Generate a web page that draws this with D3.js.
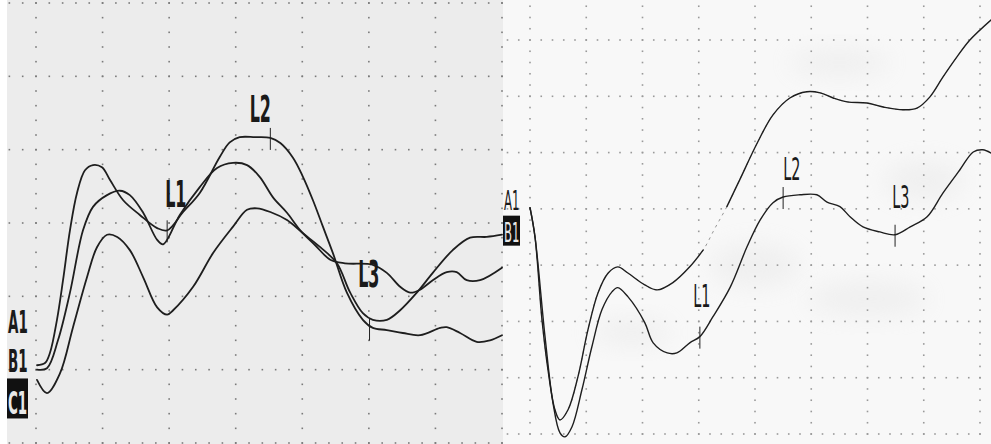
<!DOCTYPE html>
<html>
<head>
<meta charset="utf-8">
<script src="https://cdn.jsdelivr.net/npm/d3@7"></script>
<style>
body { margin: 0; background: #fff; }
svg { display: block; }
.trace { fill: none; stroke-linejoin: round; stroke-linecap: round; }
.lbl { font-family: "DejaVu Sans", sans-serif; }
</style>
</head>
<body>
<div id="chart"></div>
<script>

// LEFT RECORDING - three channels, [time ms, amplitude div]
var leftA = [[0.15,-1.94],[1.35,-1.91],[2.1,-1.77],[3.15,-1.32],[4.06,-0.78],[5.1,-0.10],[6.16,0.41],
  [7.36,0.72],[8.56,0.79],[9.91,0.76],[11.1,0.59],[13.1,0.31],[15.6,0.11],[18.2,-0.07],[19.7,-0.10],
  [22.1,0.15],[24.6,0.41],[27.6,0.90],[29.1,1.10],[30.6,1.17],[32.9,1.17],[35.2,1.16],[36.7,1.09],
  [38.6,0.89],[40.1,0.63],[41.6,0.31],[43.1,-0.05],[44.6,-0.41],[46.7,-0.95],[49.1,-1.32],[50.6,-1.43],
  [52.7,-1.46],[55.1,-1.50],[57.7,-1.53],[60.7,-1.43],[61.7,-1.42],[63.7,-1.50],[66.2,-1.62],[68.2,-1.60],[70.0,-1.53]];
var leftB = [[0.15,-2.00],[1.65,-1.98],[3.3,-1.60],[5.1,-0.95],[7.06,-0.10],[8.56,0.22],[10.67,0.38],
  [12.6,0.44],[14.1,0.38],[16.1,0.14],[18.2,-0.23],[19.1,-0.29],[21.6,0.11],[24.6,0.49],[27.2,0.75],
  [29.6,0.82],[31.7,0.79],[33.6,0.63],[35.6,0.35],[37.7,0.14],[39.7,-0.10],[41.9,-0.30],[44.2,-0.50],
  [46.4,-0.55],[50.6,-0.57],[52.7,-0.68],[54.7,-0.87],[56.2,-0.95],[57.7,-0.91],[59.6,-0.78],[61.7,-0.67],
  [63.2,-0.67],[64.7,-0.78],[66.7,-0.78],[70.0,-0.61]];
var leftC = [[0.15,-2.14],[1.65,-2.32],[3.6,-2.05],[5.56,-1.42],[7.66,-0.74],[9.16,-0.33],[10.67,-0.16],
  [12.2,-0.19],[14.1,-0.37],[16.1,-0.74],[18.2,-1.15],[19.7,-1.25],[20.6,-1.19],[23.6,-0.87],[26.6,-0.41],
  [29.6,-0.05],[31.7,0.18],[33.2,0.20],[35.2,0.15],[37.7,0.04],[40.1,-0.14],[42.7,-0.33],[45.2,-0.55],
  [47.2,-0.95],[49.1,-1.23],[50.6,-1.32],[52.7,-1.32],[54.7,-1.19],[57.2,-0.95],[59.6,-0.68],[62.6,-0.37],
  [65.2,-0.20],[67.7,-0.19],[70.0,-0.16]];

// RIGHT RECORDING - two channels
var rightA = [[0,0.02],[0.89,-0.50],[2.13,-1.97],[3.2,-2.86],[4.44,-3.57],[5.33,-3.75],[6.76,-3.57],
  [8.53,-2.98],[10.3,-2.15],[12.1,-1.49],[13.9,-1.14],[15.6,-1.03],[17.4,-1.14],[20.4,-1.35],[22.6,-1.44],
  [25.4,-1.31],[28.4,-1.03],[30.8,-0.73],[32.9,-0.34],[35.0,0.04],[37.3,0.52],[40.4,1.17],[43.2,1.67],
  [46.2,1.97],[49.2,2.08],[51.6,2.06],[53.9,1.97],[56.4,1.90],[59.9,1.88],[62.8,1.81],[66.3,1.76],
  [68.8,1.79],[71.1,1.99],[73.4,2.34],[75.9,2.70],[78.2,3.00],[82.0,3.36]];
var rightB = [[0,0.02],[0.89,-0.50],[2.67,-2.27],[4.09,-3.45],[5.33,-3.98],[6.22,-4.05],[7.47,-3.87],
  [9.24,-3.21],[11.0,-2.45],[12.8,-1.79],[14.6,-1.47],[15.6,-1.40],[17.4,-1.56],[20.4,-2.02],[21.9,-2.38],
  [24.4,-2.56],[26.1,-2.56],[28.4,-2.38],[30.2,-2.27],[32.5,-1.92],[35.6,-1.39],[38.6,-0.67],[40.9,-0.20],
  [43.2,0.11],[45.0,0.21],[48.0,0.25],[51.0,0.25],[52.8,0.12],[55.1,0.04],[56.9,-0.14],[59.2,-0.32],
  [62.2,-0.41],[64.9,-0.46],[67.6,-0.32],[70.6,-0.14],[73.4,0.28],[76.4,0.69],[78.8,1.01],[80.5,1.05],[82.0,0.99]];

// faded stretch of the right A1 trace (time ms)
var rightAGap = [31.5, 34.5];

// latency markers: name, marker time, marker amplitude, label time, label amplitude
var leftMarks = [["L1",19.7,-0.10,19.4,0.22],["L2",35.2,1.16,32.1,1.38],["L3",50.1,-1.44,48.4,-0.87]];
var rightMarks = [["L1",30.2,-2.27,29.0,-1.74],["L2",45.0,0.21,45.0,0.52],["L3",64.9,-0.46,64.4,0.02]];

// channel names: name, baseline amplitude, boxed
var leftChannels = [["A1",-1.50,false],["B1",-2.03,false],["C1",-2.60,true]];
var rightChannels = [["A1",-0.02,false],["B1",-0.59,true]];

var W = 991, H = 444;

var svg = d3.select("#chart").append("svg")
  .attr("width", W).attr("height", H);

svg.append("rect").attr("width", W).attr("height", H).attr("fill", "#ffffff");

var defs = svg.append("defs");
defs.append("filter").attr("id", "smudge")
  .attr("x", "-50%").attr("y", "-50%").attr("width", "200%").attr("height", "200%")
  .append("feGaussianBlur").attr("stdDeviation", 12);

function drawPanel(p) {
  var g = svg.append("g");
  var x = d3.scaleLinear().domain(p.xDomain).range(p.xRange);
  var y = d3.scaleLinear().domain(p.yDomain).range(p.yRange);

  var clipId = "clip" + p.id;
  defs.append("clipPath").attr("id", clipId)
    .append("rect").attr("x", p.left).attr("y", 0)
    .attr("width", p.right - p.left).attr("height", H);

  g.append("rect")
    .attr("x", p.left).attr("y", p.top)
    .attr("width", p.right - p.left).attr("height", H - p.top)
    .attr("fill", p.bg);

  // faint scanner smudges on the paper
  g.append("g").attr("clip-path", "url(#" + clipId + ")")
    .selectAll("ellipse").data(p.smudges).enter().append("ellipse")
    .attr("cx", function(d) { return x(d[0]); })
    .attr("cy", function(d) { return y(d[1]); })
    .attr("rx", function(d) { return d[2]; })
    .attr("ry", function(d) { return d[3]; })
    .attr("fill", "#dcdcdc")
    .attr("opacity", 0.3)
    .attr("filter", "url(#smudge)");

  // dotted grid
  var tMin = x.invert(p.left), tMax = x.invert(p.right);
  var vMin = y.invert(H), vMax = y.invert(p.top);
  var cols = d3.range(p.xDomain[0], p.xDomain[1] + 0.01, 10);
  var rows = d3.range(Math.ceil(vMin), vMax + 0.01, 1);
  var xs = d3.range(Math.ceil(tMin / 2) * 2, tMax, 2);
  var ys = d3.range(Math.ceil(vMin * 5) / 5, vMax, 0.2);

  var dots = [];
  rows.forEach(function(r) { xs.forEach(function(t) { dots.push([t, r]); }); });
  cols.forEach(function(c) { ys.forEach(function(v) { dots.push([c, v]); }); });

  g.append("g").attr("clip-path", "url(#" + clipId + ")")
    .selectAll("rect").data(dots).enter().append("rect")
    .attr("x", function(d) { return x(d[0]) - 0.8; })
    .attr("y", function(d) { return y(d[1]) - 0.8; })
    .attr("width", 1.6).attr("height", 1.6)
    .attr("fill", p.dot);

  var full = d3.line()
    .x(function(d) { return x(d[0]); })
    .y(function(d) { return y(d[1]); })
    .curve(d3.curveCatmullRom.alpha(0.5));

  var gap = p.gap || [Infinity, Infinity];
  var broken = d3.line()
    .defined(function(d) { return !(d[0] > gap[0] && d[0] < gap[1]); })
    .x(function(d) { return x(d[0]); })
    .y(function(d) { return y(d[1]); })
    .curve(d3.curveCatmullRom.alpha(0.5));

  var tg = g.append("g").attr("clip-path", "url(#" + clipId + ")");

  // faded print where the pen lifted
  if (p.gap) {
    tg.append("path")
      .attr("class", "trace")
      .attr("d", full(p.traces[0]))
      .attr("stroke", "#555")
      .attr("stroke-width", 1)
      .attr("stroke-dasharray", "2,5")
      .attr("opacity", 0.6);
  }

  tg.selectAll("path.main").data(p.traces).enter().append("path")
    .attr("class", "trace main")
    .attr("d", function(d, i) { return i === 0 ? broken(d) : full(d); })
    .attr("stroke", "#1e1e1e")
    .attr("stroke-width", p.lw);

  // latency ticks + labels
  g.selectAll(".tick").data(p.marks).enter().append("line")
    .attr("x1", function(d) { return x(d[1]); })
    .attr("x2", function(d) { return x(d[1]); })
    .attr("y1", function(d) { return y(d[2]) - 10; })
    .attr("y2", function(d) { return y(d[2]) + 12; })
    .attr("stroke", "#222").attr("stroke-width", 1);

  g.selectAll(".mlbl").data(p.marks).enter().append("text")
    .attr("class", "lbl")
    .attr("transform", function(d) {
      return "translate(" + x(d[3]) + "," + y(d[4]) + ") scale(" + p.markScale + ",1)";
    })
    .attr("font-size", p.markSize)
    .attr("font-weight", p.markWeight)
    .attr("fill", "#1a1a1a")
    .text(function(d) { return d[0]; });

  // channel names at the left edge
  var ch = g.selectAll(".ch").data(p.channels).enter().append("g");
  ch.filter(function(d) { return d[2]; }).append("rect")
    .attr("x", p.left)
    .attr("y", function(d) { return y(d[1]) - p.boxH * 0.88; })
    .attr("width", p.boxW)
    .attr("height", p.boxH)
    .attr("fill", "#111");
  ch.append("text")
    .attr("class", "lbl")
    .attr("transform", function(d) {
      return "translate(" + (p.left + 1) + "," + y(d[1]) + ") scale(" + p.chScale + ",1)";
    })
    .attr("font-size", p.chSize)
    .attr("font-weight", p.chWeight)
    .attr("fill", function(d) { return d[2] ? "#e8e8e8" : "#1a1a1a"; })
    .text(function(d) { return d[0]; });
}

drawPanel({
  id: "L", left: 7, right: 503, top: 0, bg: "#ececec", dot: "#7a7a7a",
  xDomain: [0, 70], xRange: [36, 502], yDomain: [-3, 3], yRange: [443, 3],
  traces: [leftA, leftB, leftC], lw: 1.8, smudges: [],
  marks: leftMarks, markSize: 38, markScale: 0.42, markWeight: "bold",
  channels: leftChannels, chSize: 32, chScale: 0.42, chWeight: "bold", boxW: 21, boxH: 40
});

drawPanel({
  id: "R", left: 503, right: 991, top: 0, bg: "#f8f8f8", dot: "#9a9a9a",
  xDomain: [0, 80], xRange: [530, 980], yDomain: [-4, 3], yRange: [434, 40],
  traces: [rightA, rightB], lw: 1.4, gap: rightAGap,
  smudges: [[18, -2.2, 40, 14], [40, -1.0, 45, 22], [60, -1.6, 60, 18], [70, 0.5, 40, 20], [55, 2.6, 50, 14]],
  marks: rightMarks, markSize: 32, markScale: 0.45, markWeight: "normal",
  channels: rightChannels, chSize: 26, chScale: 0.45, chWeight: "normal", boxW: 17, boxH: 30
});

</script>
</body>
</html>
